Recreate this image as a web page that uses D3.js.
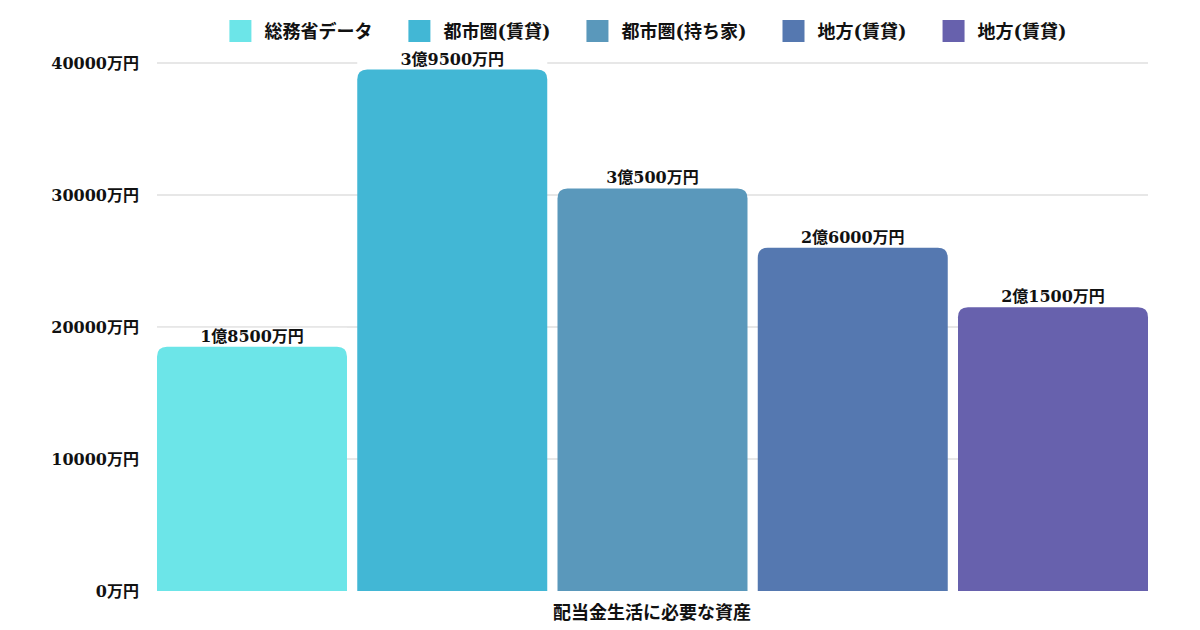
<!DOCTYPE html>
<html><head><meta charset="utf-8">
<script src="https://cdn.jsdelivr.net/npm/d3@7/dist/d3.min.js"></script>
<style>
html,body{margin:0;padding:0;background:#fff;}
text{font-family:"DejaVu Serif","Noto Sans CJK JP",serif;font-weight:bold;fill:#111;}
</style></head>
<body><svg id="c" width="1200" height="630"></svg>
<script>
const category = "配当金生活に必要な資産";
const seriesNames = ["総務省データ","都市圏(賃貸)","都市圏(持ち家)","地方(賃貸)","地方(賃貸)"];
const seriesValues = [18500, 39500, 30500, 26000, 21500];
const valueLabels = ["1億8500万円","3億9500万円","3億500万円","2億6000万円","2億1500万円"];
const colors = ["#6ce5e8","#42b7d5","#5a98bb","#5578b0","#6761ad"];
const yTicks = [0,10000,20000,30000,40000];
const yTickLabels = ["0万円","10000万円","20000万円","30000万円","40000万円"];

(function(){
const svg = d3.select("#c");
const pl=157, pr=1148, pt=63, pb=591;
const y = d3.scaleLinear().domain([0,40000]).range([pb,pt]);
const x0 = d3.scaleBand().domain([category]).range([pl,pr]).paddingInner(0).paddingOuter(0);
const x1 = d3.scaleBand().domain(d3.range(seriesValues.length)).range([0,x0.bandwidth()]).paddingInner(0.0512).paddingOuter(0);

svg.append("g").selectAll("line").data(yTicks.filter(d=>d>0)).join("line")
  .attr("x1",pl).attr("x2",pr)
  .attr("y1",d=>y(d)).attr("y2",d=>y(d))
  .attr("stroke","#cfcfcf").attr("stroke-width",1);

const yAxis = d3.axisLeft(y).tickValues(yTicks).tickSize(0).tickPadding(18)
  .tickFormat((d,i)=>yTickLabels[i]);
const ga = svg.append("g").attr("transform",`translate(${pl},0)`).call(yAxis);
ga.select(".domain").remove();
ga.selectAll("text").attr("font-size",16).style("font-family",'"DejaVu Serif","Noto Sans CJK JP",serif').style("font-weight","bold").attr("fill","#111").attr("dy","0.32em");

const r=10;
function barPath(x,w,yt,yb){
  return `M${x},${yb}V${yt+r}Q${x},${yt} ${x+r},${yt}H${x+w-r}Q${x+w},${yt} ${x+w},${yt+r}V${yb}Z`;
}
const bw = x1.bandwidth();
const g = svg.append("g").attr("transform",`translate(${x0(category)},0)`);
g.selectAll("path").data(seriesValues).join("path")
  .attr("d",(d,i)=>barPath(x1(i),bw,y(d),pb))
  .attr("fill",(d,i)=>colors[i]);

g.selectAll("rect.lb").data(seriesValues).join("rect").attr("class","lb")
  .attr("x",(d,i)=>x1(i)).attr("width",bw)
  .attr("y",d=>y(d)-19).attr("height",18).attr("fill","#fff");
g.selectAll("text.vl").data(seriesValues).join("text").attr("class","vl")
  .attr("x",(d,i)=>x1(i)+bw/2).attr("y",d=>y(d)-5)
  .attr("text-anchor","middle").attr("font-size",16)
  .text((d,i)=>valueLabels[i]);

svg.append("text").attr("x",652).attr("y",619).attr("text-anchor","middle")
  .attr("font-size",18).text(category);

const lg = svg.append("g");
const items = lg.selectAll("g").data(seriesNames).join("g");
items.append("rect").attr("width",22).attr("height",22).attr("y",20).attr("fill",(d,i)=>colors[i]);
items.append("text").attr("x",35).attr("y",38).attr("font-size",18).text(d=>d);
let xs=0; const pos=[];
items.each(function(d,i){
  const w = d3.select(this).select("text").node().getComputedTextLength();
  pos.push(xs); xs += 35 + w + 36;
});
const total = xs-36;
const start = 648 - total/2;
items.attr("transform",(d,i)=>`translate(${start+pos[i]},0)`);
})();
</script></body></html>
